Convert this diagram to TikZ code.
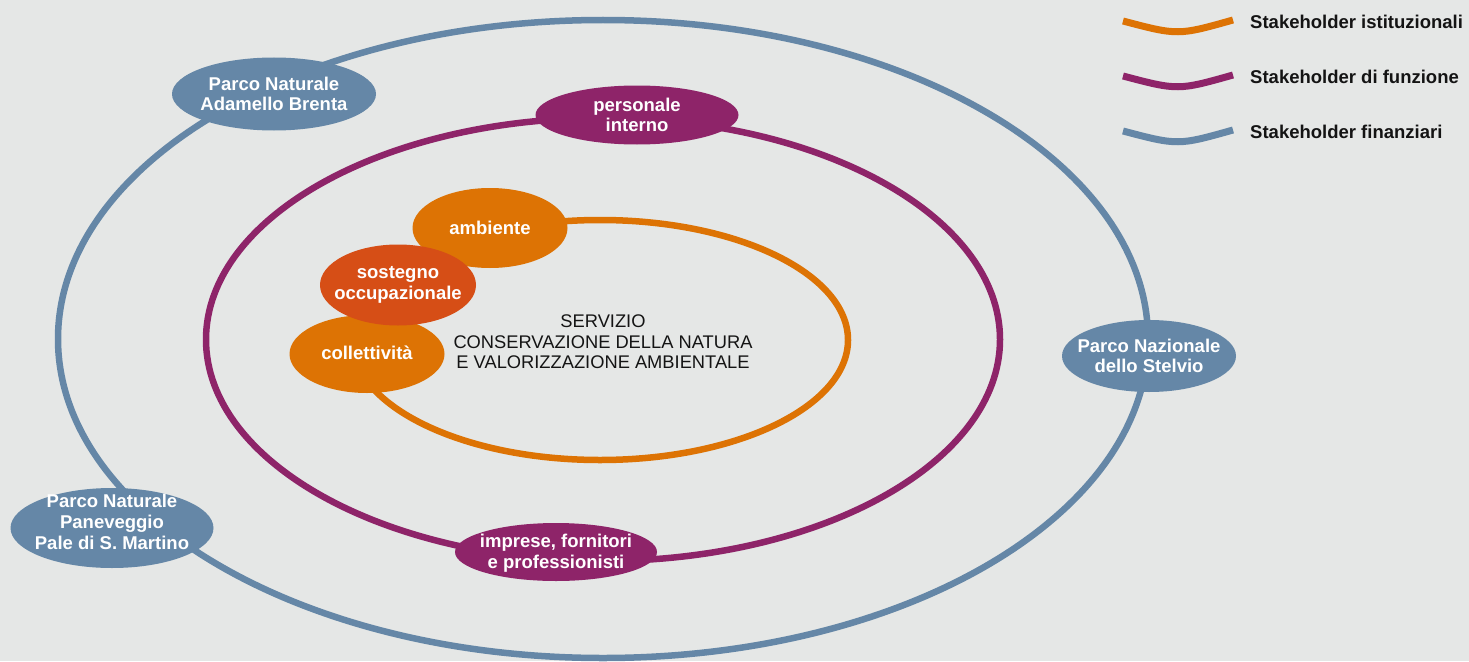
\documentclass[tikz,border=0pt]{standalone}
\usepackage{fontspec}
\setmainfont{Liberation Sans}
\usetikzlibrary{shapes.geometric}
\definecolor{bgc}{RGB}{229,231,230}
\definecolor{bluec}{RGB}{101,135,167}
\definecolor{purplec}{RGB}{142,36,105}
\definecolor{orangec}{RGB}{221,115,4}
\definecolor{redc}{RGB}{214,78,22}
\definecolor{textc}{RGB}{20,20,20}
\tikzset{
  ring/.style={line width=6.5pt},
  legline/.style={line width=7pt},
  blob/.style={ellipse, inner sep=0pt, draw=none},
  lbl/.style={text=white, align=center, inner sep=0pt,
    font=\fontsize{18.5}{20.7}\selectfont\bfseries},
  legtext/.style={text=textc, inner sep=0pt, anchor=base west,
    font=\fontsize{18.5}{22}\selectfont\bfseries},
  centertext/.style={text=textc, align=center, inner sep=0pt,
    font=\fontsize{18.3}{20.5}\selectfont}
}
\begin{document}
\begin{tikzpicture}[x=1pt,y=-1pt]
\fill[bgc] (0,0) rectangle (1469,661);
\useasboundingbox (0,0) rectangle (1469,661);

% outer ring (financial)
\draw[ring, bluec] (603,339) ellipse [x radius=545pt, y radius=319pt];
% middle ring (function)
\draw[ring, purplec] (603,339.5) ellipse [x radius=397pt, y radius=221.5pt];
% inner ring (institutional)
\draw[ring, orangec] (600,340) ellipse [x radius=248pt, y radius=120pt];

% financial stakeholders
\node[blob, fill=bluec, minimum width=204pt, minimum height=73pt] (adamello) at (274,94) {};
\node[lbl] (adamellot) at (274,94) {Parco Naturale\\Adamello Brenta};
\node[blob, fill=bluec, minimum width=174pt, minimum height=72pt] (stelvio) at (1149,356) {};
\node[lbl] (stelviot) at (1149,356) {Parco Nazionale\\dello Stelvio};
\node[blob, fill=bluec, minimum width=203pt, minimum height=80pt] (paneveggio) at (112,528) {};
\node[lbl] (paneveggiot) at (112,522) {Parco Naturale\\Paneveggio\\Pale di S. Martino};

% function stakeholders
\node[blob, fill=purplec, minimum width=203pt, minimum height=59pt] (personale) at (637,115) {};
\node[lbl] (personalet) at (637,115) {personale\\interno};
\node[blob, fill=purplec, minimum width=202pt, minimum height=58pt] (imprese) at (556,552) {};
\node[lbl] (impreset) at (556,553.5) {imprese, fornitori\\e professionisti};

% institutional stakeholders
\node[blob, fill=orangec, minimum width=155pt, minimum height=80pt] (ambiente) at (490,228) {};
\node[lbl] (ambientet) at (490,228) {ambiente};
\node[blob, fill=orangec, minimum width=155pt, minimum height=78pt] (collettivita) at (367,354) {};
\node[lbl] (collettivitat) at (367,353) {collettività};
\node[blob, fill=redc, minimum width=156pt, minimum height=81pt] (sostegno) at (398,285) {};
\node[lbl] (sostegnot) at (398,285) {sostegno\\occupazionale};

% centre
\node[centertext] (servizio) at (603,342) {SERVIZIO\\CONSERVAZIONE DELLA NATURA\\E VALORIZZAZIONE AMBIENTALE};

% legend
\draw[legline, orangec] (1123,21) .. controls (1178,35.5) .. (1233,20);
\draw[legline, purplec] (1123,76) .. controls (1178,90.5) .. (1233,75);
\draw[legline, bluec] (1123,131) .. controls (1178,145.5) .. (1233,130);
\node[legtext] (leg1) at (1250,28.3) {Stakeholder istituzionali};
\node[legtext] (leg2) at (1250,83.3) {Stakeholder di funzione};
\node[legtext] (leg3) at (1250,138.3) {Stakeholder finanziari};
\end{tikzpicture}
\end{document}
